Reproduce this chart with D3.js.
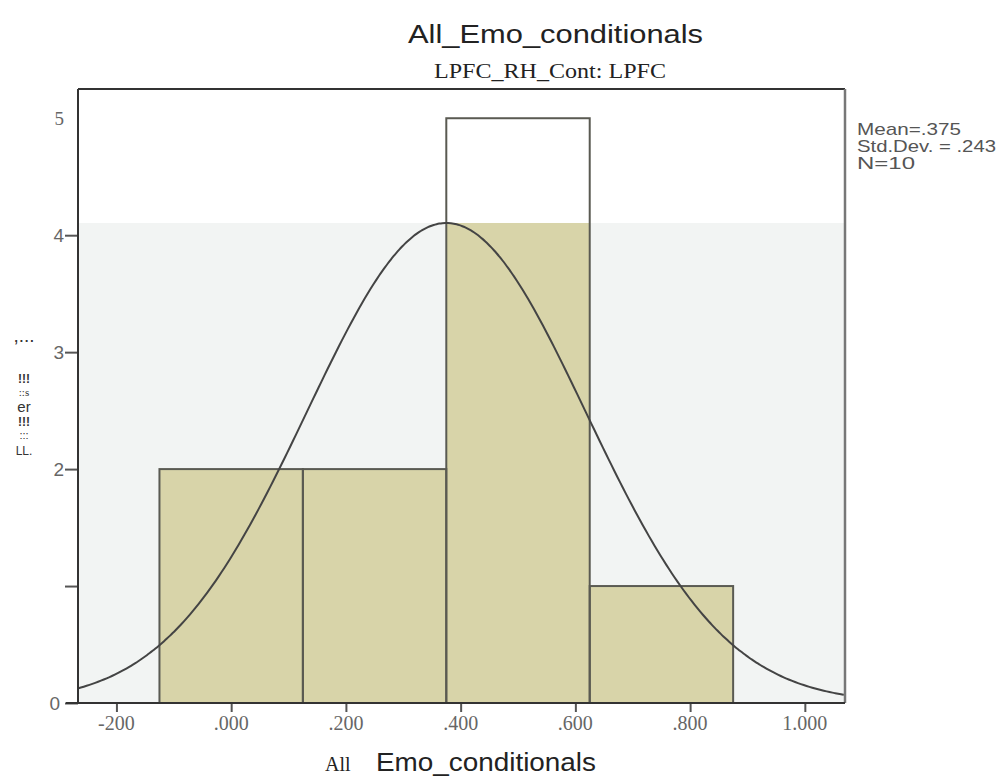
<!DOCTYPE html>
<html><head><meta charset="utf-8">
<script src="https://cdn.jsdelivr.net/npm/d3@7"></script>
<style>body{margin:0;background:#fff}svg{display:block}</style>
</head><body>
<svg id="c" width="1004" height="779"></svg>
<script>
// ---- data ----
const binEdges = [-0.125, 0.125, 0.375, 0.625, 0.875];
const counts = [2, 2, 5, 1];
const statMean = 0.375, statSD = 0.243, statN = 10;
const xTickValues = [-0.2, 0.0, 0.2, 0.4, 0.6, 0.8, 1.0];
const xTickLabels = ["-200", ".000", ".200", ".400", ".600", ".800", "1.000"];
const yTickValues = [0, 1, 2, 3, 4, 5];
const yTickLabels = ["0", "", "2", "3", "4", "5"];
const statLines = ["Mean=.375", "Std.Dev. = .243", "N=10"];
const yLabelPieces = [",...", "!!!", "::s", "er", "!!!", ":::", "LL."];

const svg = d3.select("#c");
const x = d3.scaleLinear().domain([-0.267, 1.07]).range([78, 845]);
const y = d3.scaleLinear().domain([0, 5.25]).range([703, 89]);
const binW = binEdges[1] - binEdges[0];
const dens = v => statN * binW * Math.exp(-0.5 * ((v - statMean) / statSD) ** 2) / (statSD * Math.sqrt(2 * Math.PI));
const peak = dens(statMean);
const SANS = "Liberation Sans, Arial, sans-serif", SERIF = "Liberation Serif, Times New Roman, serif";

// titles
svg.append("text").attr("x", 408).attr("y", 43)
  .attr("font-family", SANS).attr("font-size", 26).attr("fill", "#222")
  .attr("textLength", 295).attr("lengthAdjust", "spacingAndGlyphs")
  .text("All_Emo_conditionals");
svg.append("text").attr("x", 434).attr("y", 78)
  .attr("font-family", SERIF).attr("font-size", 21).attr("fill", "#222")
  .attr("textLength", 232).attr("lengthAdjust", "spacingAndGlyphs")
  .text("LPFC_RH_Cont: LPFC");

// gray plot background (up to curve peak)
svg.append("rect").attr("x", x.range()[0]).attr("y", y(peak))
  .attr("width", x.range()[1] - x.range()[0]).attr("height", y(0) - y(peak)).attr("fill", "#f2f4f3");

// bars
const bars = counts.map((c, i) => ({x0: binEdges[i], x1: binEdges[i + 1], c}));
svg.selectAll("rect.bf").data(bars).join("rect").attr("class", "bf")
  .attr("x", d => x(d.x0)).attr("width", d => x(d.x1) - x(d.x0))
  .attr("y", d => y(Math.min(d.c, peak))).attr("height", d => y(0) - y(Math.min(d.c, peak)))
  .attr("fill", "#d8d4a9");
svg.selectAll("rect.bs").data(bars).join("rect").attr("class", "bs")
  .attr("x", d => x(d.x0)).attr("width", d => x(d.x1) - x(d.x0))
  .attr("y", d => y(d.c)).attr("height", d => y(0) - y(d.c))
  .attr("fill", "none").attr("stroke", "#5a5a52").attr("stroke-width", 2);

// normal curve
const pts = d3.range(x.domain()[0], x.domain()[1] + 0.0001, 0.005).map(v => [v, dens(v)]);
svg.append("path").datum(pts)
  .attr("d", d3.line().x(d => x(d[0])).y(d => y(d[1])).curve(d3.curveBasis))
  .attr("fill", "none").attr("stroke", "#444").attr("stroke-width", 2);

// frame
svg.append("line").attr("x1", 78).attr("x2", 845).attr("y1", y(5.25)).attr("y2", y(5.25)).attr("stroke", "#333").attr("stroke-width", 2);
svg.append("line").attr("x1", 845).attr("x2", 845).attr("y1", y(5.25)).attr("y2", y(0)).attr("stroke", "#777").attr("stroke-width", 2.5);

// y axis
const yAxis = svg.append("g").attr("transform", "translate(78,0)")
  .call(d3.axisLeft(y).tickValues(yTickValues.filter(v => v < 5)).tickSize(13).tickFormat(""));
yAxis.select(".domain").remove();
yAxis.selectAll(".tick line").attr("stroke", "#555").attr("stroke-width", 2);
svg.append("line").attr("x1", 78).attr("x2", 78).attr("y1", y(5.25)).attr("y2", y(0) + 1).attr("stroke", "#333").attr("stroke-width", 2);
svg.selectAll("text.yl").data(yTickValues).join("text").attr("class", "yl")
  .attr("x", (d, i) => i === 0 ? 60 : 64).attr("y", d => y(d) + 7).attr("text-anchor", "end")
  .attr("font-family", (d, i) => i === 5 ? SERIF : SANS)
  .attr("font-size", 19).attr("fill", "#666")
  .text((d, i) => yTickLabels[i]);

// x axis
const xAxis = svg.append("g").attr("transform", `translate(0,${y(0)})`)
  .call(d3.axisBottom(x).tickValues(xTickValues).tickSize(9).tickFormat(""));
xAxis.select(".domain").remove();
xAxis.selectAll(".tick line").attr("stroke", "#555").attr("stroke-width", 2);
svg.append("line").attr("x1", 66).attr("x2", 845).attr("y1", y(0)).attr("y2", y(0)).attr("stroke", "#333").attr("stroke-width", 2);
svg.selectAll("text.xl").data(xTickValues).join("text").attr("class", "xl")
  .attr("x", d => x(d)).attr("y", 730).attr("text-anchor", "middle")
  .attr("font-family", SERIF).attr("font-size", 20).attr("fill", "#666")
  .text((d, i) => xTickLabels[i]);

// x axis title
svg.append("text").attr("x", 325).attr("y", 771)
  .attr("font-family", SERIF).attr("font-size", 20).attr("fill", "#222").text("All");
svg.append("text").attr("x", 376).attr("y", 771)
  .attr("font-family", SANS).attr("font-size", 25).attr("fill", "#222")
  .attr("textLength", 220).attr("lengthAdjust", "spacingAndGlyphs").text("Emo_conditionals");

// y axis title (garbled as in source)
const yLabY = [342, 383, 396, 412, 426, 439, 455];
const yLabSize = [19, 12, 11, 15, 12, 11, 12];
svg.selectAll("text.yt").data(yLabelPieces).join("text").attr("class", "yt")
  .attr("x", 24).attr("y", (d, i) => yLabY[i]).attr("text-anchor", "middle")
  .attr("font-family", (d, i) => i === 2 ? SERIF : SANS)
  .attr("font-size", (d, i) => yLabSize[i]).attr("font-weight", (d, i) => (i === 1 || i === 4) ? "bold" : "normal")
  .attr("fill", "#333").text(d => d);

// stats
const statLen = [104, 139, 58];
svg.selectAll("text.st").data(statLines).join("text").attr("class", "st")
  .attr("x", 857).attr("y", (d, i) => 135 + i * 17)
  .attr("font-family", SANS).attr("font-size", 17).attr("fill", "#555")
  .attr("textLength", (d, i) => statLen[i]).attr("lengthAdjust", "spacingAndGlyphs")
  .text(d => d);
</script>
</body></html>
